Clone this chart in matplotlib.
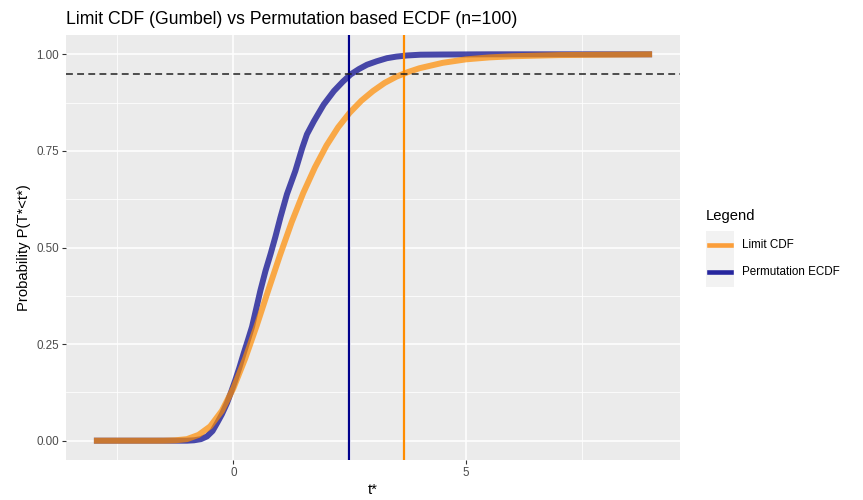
import matplotlib
matplotlib.use("Agg")
import matplotlib.pyplot as plt
from matplotlib.lines import Line2D
from matplotlib.patches import Rectangle

plt.rcParams["font.family"] = ["Liberation Sans", "DejaVu Sans"]

# limit CDF (Gumbel)
limit_t = [-3.0, -2.0, -1.75, -1.5, -1.25, -1.0, -0.75, -0.5, -0.25, 0.0,
           0.25, 0.5, 0.75, 1.0, 1.25, 1.5, 1.75, 2.0, 2.25, 2.5, 2.75, 3.0,
           3.25, 3.5, 3.75, 4.0, 4.5, 5.0, 5.5, 6.0, 7.0, 8.0, 9.0]
limit_p = [0.0, 0.0, 0.0, 0.0001, 0.001, 0.004, 0.015, 0.037, 0.077, 0.136,
           0.212, 0.298, 0.390, 0.480, 0.565, 0.641, 0.707, 0.764, 0.811,
           0.849, 0.880, 0.905, 0.926, 0.942, 0.954, 0.964, 0.978, 0.987,
           0.992, 0.995, 0.998, 0.999, 1.0]

# permutation ECDF
perm_t = [-3.0, -1.0, -0.85, -0.7, -0.57, -0.45, -0.35, -0.25, -0.14, -0.05,
          0.04, 0.13, 0.22, 0.31, 0.40, 0.49, 0.58, 0.69, 0.80, 0.90, 1.01,
          1.15, 1.33, 1.48, 1.58, 1.73, 1.94, 2.16, 2.35, 2.52, 2.70, 2.87,
          3.08, 3.30, 3.50, 3.73, 4.02, 4.5, 5.5, 7.0, 9.0]
perm_p = [0.0, 0.0, 0.001, 0.004, 0.011, 0.025, 0.046, 0.068, 0.097, 0.126,
          0.157, 0.19, 0.226, 0.26, 0.295, 0.342, 0.389, 0.44, 0.484, 0.527,
          0.578, 0.638, 0.698, 0.758, 0.793, 0.827, 0.870, 0.905, 0.929,
          0.948, 0.962, 0.973, 0.982, 0.990, 0.994, 0.997, 0.999, 0.9995,
          1.0, 1.0, 1.0]

perm_q95 = 2.49
limit_q95 = 3.66
level = 0.95

fig = plt.figure(figsize=(8.63, 5.0), dpi=100)
ax = fig.add_axes([66 / 863, 40 / 500, 614 / 863, 425 / 500])
ax.set_facecolor("#EBEBEB")
for s in ax.spines.values():
    s.set_visible(False)

ax.set_xlim(-3.6, 9.6)
ax.set_ylim(-0.05, 1.05)
ax.set_xticks([0, 5])
ax.set_xticks([-2.5, 2.5, 7.5], minor=True)
ax.set_yticks([0, 0.25, 0.5, 0.75, 1.0])
ax.set_yticks([0.125, 0.375, 0.625, 0.875], minor=True)
ax.set_yticklabels(["0.00", "0.25", "0.50", "0.75", "1.00"])
ax.grid(which="major", color="white", lw=1.1)
ax.grid(which="minor", color="white", lw=0.55)
ax.set_axisbelow(True)
ax.tick_params(which="major", length=3, width=0.8, color="#333333",
               labelcolor="#4D4D4D", labelsize=8.4, pad=2)
ax.tick_params(which="minor", length=0)

ax.plot(perm_t, perm_p, color="darkblue", alpha=0.7, lw=4.3,
        solid_capstyle="butt", solid_joinstyle="round")
ax.plot(limit_t, limit_p, color="darkorange", alpha=0.7, lw=4.3,
        solid_capstyle="butt", solid_joinstyle="round")
ax.axvline(perm_q95, color="darkblue", lw=1.6)
ax.axvline(limit_q95, color="darkorange", lw=1.6)
ax.axhline(level, color="#222222", lw=1.1, dashes=(4.5, 2.8))

ax.set_xlabel("t*", fontsize=10.6, labelpad=3)
ax.set_ylabel("Probability P(T*<t*)", fontsize=10.6, labelpad=4)
fig.text(66 / 863, 1 - 20 / 500, "Limit CDF (Gumbel) vs Permutation based ECDF (n=100)",
         fontsize=12.7, va="center", ha="left")

# legend
fig.text(706 / 863, 1 - 216 / 500, "Legend", fontsize=10.6, va="center")
fig.add_artist(Rectangle((706 / 863, 1 - 287 / 500), 28 / 863, 56 / 500,
                         transform=fig.transFigure, color="#F2F2F2", lw=0))
keys = [("Limit CDF", "#FB9E3A", 245), ("Permutation ECDF", "#26269E", 272)]
for lab, col, yp in keys:
    fig.add_artist(Line2D([709 / 863, 731 / 863], [1 - yp / 500] * 2,
                          transform=fig.transFigure, color=col, lw=3.3))
    fig.text(742 / 863, 1 - yp / 500, lab, fontsize=8.4, va="center")

fig.savefig("out.png", dpi=100)
